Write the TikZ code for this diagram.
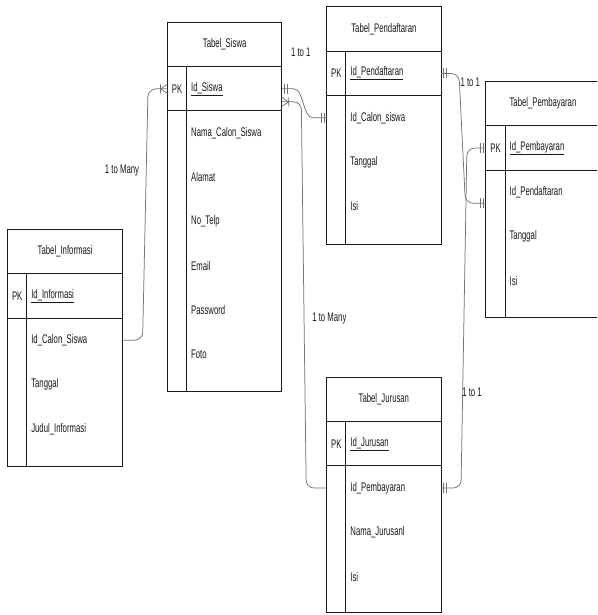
\documentclass[tikz,border=0pt]{standalone}
\usepackage{fontspec}
\setmainfont{Liberation Sans}[FakeStretch=0.62]
\usetikzlibrary{calc,fit}
\tikzset{
 tblline/.style={draw=black!90, line width=1pt},
 tblbox/.style={tblline, inner sep=0pt, outer sep=0pt},
 txt/.style={font=\fontsize{12.5}{14}\selectfont, text=black!90, inner sep=0pt},
 fld/.style={txt, anchor=west},
 conn/.style={draw=black!55, line width=0.75pt},
 lbl/.style={txt},
}
\newcommand\ertbl[8]{%
 \coordinate (#1-nw) at (#2,#4);
 \coordinate (#1-se) at (#3,#5);
 \node[tblbox, fit=(#1-nw)(#1-se)] (#1) {};
 \draw[tblline] (#2,{#4+44.3}) -- (#3,{#4+44.3}) (#2,{#4+88.6}) -- (#3,{#4+88.6});
 \draw[tblline] ({#2+19.2},{#4+44.3}) -- ({#2+19.2},#5);
 \node[txt] (#1-t) at ({(#2+#3)/2},{#4+22.15}) {#6};
 \node[txt] (#1-pkl) at ({#2+9.6},{#4+66.45}) {PK};
 \node[fld] (#1-pk) at ({#2+23.5},{#4+66.45}) {\underline{#7}};
 \foreach \t [count=\i] in {#8} {\node[fld] (#1-a\i) at ({#2+23.5},{#4+88.6+22.15+(\i-1)*44.3}) {\t};}
}
\newcommand\barsmk[2]{\draw[conn] ($(#1)+(#2*2.5,-5)$) -- ($(#1)+(#2*2.5,5)$) ($(#1)+(#2*5.5,-5)$) -- ($(#1)+(#2*5.5,5)$);}
\newcommand\manymk[2]{\draw[conn] ($(#1)+(0,-4.5)$) -- ($(#1)+(#2*7,0)$) -- ($(#1)+(0,4.5)$) ($(#1)+(#2*7,-4.5)$) -- ($(#1)+(#2*7,4.5)$);}
\begin{document}
\begin{tikzpicture}[x=1pt,y=-1pt]
\useasboundingbox (0,0) rectangle (597,615);
\clip (0,0) rectangle (597,615);
\fill[white] (0,0) rectangle (597,615);
\ertbl{sis}{167.5}{281.8}{22.4}{391.4}{Tabel\_Siswa}{Id\_Siswa}{Nama\_Calon\_Siswa,Alamat,No\_Telp,Email,Password,Foto}
\ertbl{pend}{326.7}{441}{7}{244}{Tabel\_Pendaftaran}{Id\_Pendaftaran}{Id\_Calon\_siswa,Tanggal,Isi}
\ertbl{pemb}{485.9}{600}{81.6}{317.6}{Tabel\_Pembayaran}{Id\_Pembayaran}{Id\_Pendaftaran,Tanggal,Isi}
\ertbl{info}{7.6}{122.6}{229.4}{466}{Tabel\_Informasi}{Id\_Informasi}{Id\_Calon\_Siswa,Tanggal,Judul\_Informasi}
\ertbl{jur}{326.7}{441}{377.3}{612.5}{Tabel\_Jurusan}{Id\_Jurusan}{Id\_Pembayaran,Nama\_Jurusanl,Isi}
% connection points
\coordinate (c1a) at (sis.west |- sis-pk);
\coordinate (c1b) at (info.east |- info-a1);
\coordinate (c2a) at (sis.east |- sis-pk);
\coordinate (c2b) at (pend.west |- pend-a1);
\coordinate (c3a) at ($(sis.east |- sis-pk)+(0,13)$);
\coordinate (c3b) at (jur.west |- jur-a1);
\coordinate (c4a) at (pend.east |- pend-pk);
\coordinate (c4b) at ($(pemb.west |- pemb-a1)+(0,11)$);
\coordinate (c5a) at (pemb.west |- pemb-pk);
\coordinate (c5b) at (jur.east |- jur-a1);
% connectors
\draw[conn, rounded corners=8pt] (c1a) -- ($(c1a)+(-19.5,0)$) -- ($(c1b)+(20,0)$) -- (c1b);
\draw[conn] (c2a) -- ($(c2a)+(12,0)$) .. controls ($(c2a)+(22,0)$) and ($(c2b)+(-24,0)$) .. ($(c2b)+(-14,0)$) -- (c2b);
\draw[conn, rounded corners=8pt] (c3a) -- ($(c3a)+(19.5,0)$) -- ($(c3b)+(-20.5,0)$) -- (c3b);
\draw[conn, rounded corners=8pt] (c4a) -- ($(c4a)+(18,0)$) -- ($(c4b)+(-20.5,0)$) -- (c4b);
\draw[conn, rounded corners=8pt] (c5a) -- ($(c5a)+(-19,0)$) -- ($(c5b)+(20,0)$) -- (c5b);
% markers
\manymk{c1a}{-1}
\manymk{c3a}{1}
\barsmk{c2a}{1}
\barsmk{c2b}{-1}
\barsmk{c4a}{1}
\barsmk{c4b}{-1}
\barsmk{c5a}{-1}
\barsmk{c5b}{1}
% labels
\node[lbl] (l1) at (122,170.6) {1 to Many};
\node[lbl] (l2) at (300.8,52.2) {1 to 1};
\node[lbl] (l3) at (329.4,318.4) {1 to Many};
\node[lbl] (l4) at (470.3,82.4) {1 to 1};
\node[lbl] (l5) at (472,392) {1 to 1};
\end{tikzpicture}
\end{document}
